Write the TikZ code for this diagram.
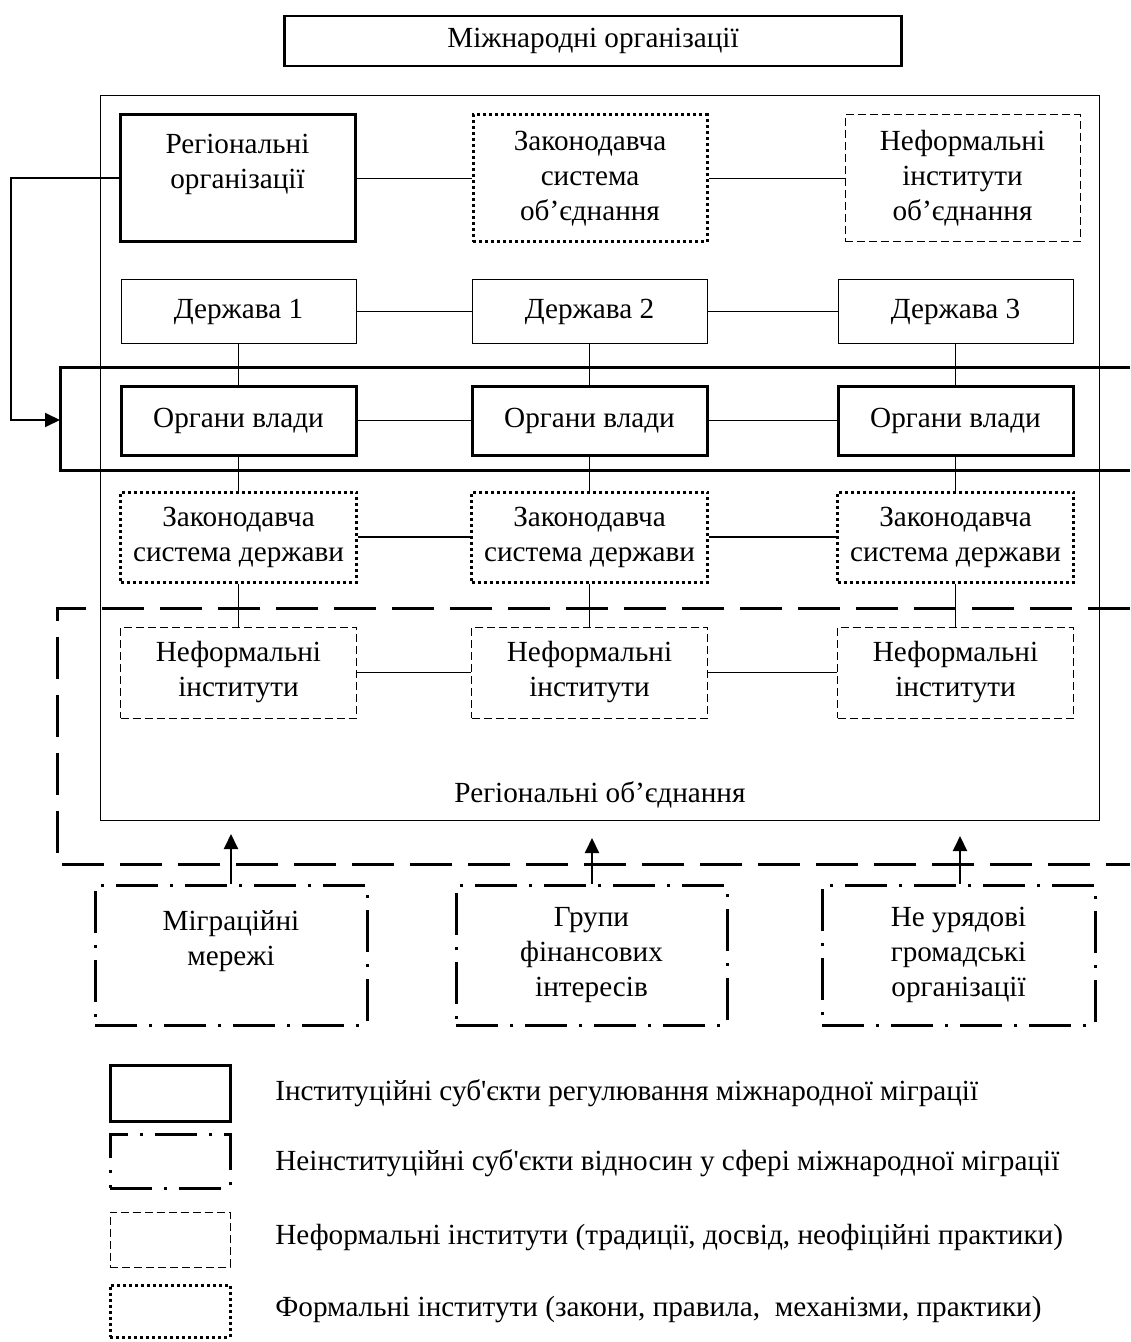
\documentclass[tikz,border=0pt]{standalone}
\usepackage{fontspec}
\setmainfont{Liberation Serif}
\usetikzlibrary{arrows.meta,positioning}

\begin{document}
\begin{tikzpicture}[x=0.5pt, y=-0.5pt,
    every node/.style={font=\fontsize{14.6}{17.5}\selectfont, align=center, inner sep=0pt},
    box/.style={rectangle, draw, line width=0.5pt},
    thickbox/.style={rectangle, draw, line width=1.5pt},
    dotbox/.style={rectangle, draw, line width=1.5pt, dash pattern=on 1.5pt off 1.5pt},
    dashbox/.style={rectangle, draw, line width=0.5pt, dash pattern=on 4pt off 2pt},
    dashdotbox/.style={rectangle, draw, line width=1.5pt, dash pattern=on 21pt off 6pt on 1.5pt off 6pt},
    link/.style={line width=0.8pt},
    arrow/.style={-{Triangle[length=7.5pt, width=7pt]}, line width=1pt}
]
\useasboundingbox (0,0) rectangle (1130,1342);

% international level
\node[box, line width=1.2pt, minimum width=308.5pt, minimum height=25pt] (intl) at (593,41) {Міжнародні організації};

% regional union
\draw[line width=0.5pt] (100,96) rectangle (1099,820);
\node (union) at (600,795) {Регіональні об’єднання};

\node[thickbox, minimum width=117.5pt, minimum height=63.5pt] (regorg) at (237.5,178.5) {Регіональні\\організації\\\mbox{}};
\node[dotbox, minimum width=117pt, minimum height=63.5pt] (lawunion) at (590,178.5) {Законодавча\\система\\об’єднання};
\node[dashbox, minimum width=117.5pt, minimum height=63.5pt] (infunion) at (962.5,178.5) {Неформальні\\інститути\\об’єднання};

% authorities band and informal band
\draw[line width=1.5pt] (1130,367) -| (60,470) -- (1130,470);
\coordinate (bandW) at (60,420);
\draw[line width=1.5pt, dash pattern=on 21pt off 8pt] (1130,608) -| (57,864) -- (1130,864);

% states
\foreach \i/\x in {1/238.5, 2/589.5, 3/955.5} {
    \node[box, minimum width=117.5pt, minimum height=31.5pt] (st\i) at (\x,311.5) {Держава \i};
    \node[thickbox, minimum width=117.5pt, minimum height=34.5pt] (gov\i) at (\x,420.5) {Органи влади};
    \node[dotbox, minimum width=118pt, minimum height=45pt] (law\i) at (\x,537) {Законодавча\\система держави};
    \node[dashbox, minimum width=118pt, minimum height=45.5pt] (inf\i) at (\x,672.5) {Неформальні\\інститути};
    \draw[link] (st\i) -- (gov\i);
    \draw[link] (gov\i) -- (law\i);
    \draw[link] (law\i) -- (inf\i);
}

\draw[link] (regorg) -- (lawunion);
\draw[link] (lawunion) -- (infunion);
\foreach \row in {st, gov, law, inf} {
    \draw[link] (\row1) -- (\row2);
    \draw[link] (\row2) -- (\row3);
}

\draw[arrow] (regorg.west) -- ++(-108,0) |- (bandW);

% non-institutional actors
\node[dashdotbox, minimum width=136pt, minimum height=70pt] (migr) at (231,955) {Міграційні\\мережі\\\mbox{}};
\node[dashdotbox, minimum width=135.5pt, minimum height=70pt] (fin) at (591.5,955) {Групи\\фінансових\\інтересів};
\node[dashdotbox, minimum width=136.5pt, minimum height=70pt] (ngo) at (958.5,955) {Не урядові\\громадські\\організації};

\coordinate (migrT) at (231,834);
\coordinate (finT) at (592,838);
\coordinate (ngoT) at (960,836);
\draw[arrow] (migr.north -| migrT) -- (migrT);
\draw[arrow] (fin.north -| finT) -- (finT);
\draw[arrow] (ngo.north -| ngoT) -- (ngoT);

% legend
\node[thickbox, minimum width=60pt, minimum height=28pt] (lg1) at (170,1093) {};
\node[dashdotbox, minimum width=60pt, minimum height=27pt] (lg2) at (170,1161) {};
\node[dashbox, minimum width=60pt, minimum height=27.5pt] (lg3) at (170,1239.5) {};
\node[dotbox, minimum width=60pt, minimum height=26pt] (lg4) at (170,1311) {};

\node[anchor=west] (lt1) at (275,1093) {Інституційні суб\textquotesingle єкти регулювання міжнародної міграції};
\node[anchor=west] (lt2) at (275,1163) {Неінституційні суб\textquotesingle єкти відносин у сфері міжнародної міграції};
\node[anchor=west] (lt3) at (275,1238) {Неформальні інститути (традиції, досвід, неофіційні практики)};
\node[anchor=west] (lt4) at (275,1310) {Формальні інститути (закони, правила,\ \ механізми, практики)};
\end{tikzpicture}
\end{document}
